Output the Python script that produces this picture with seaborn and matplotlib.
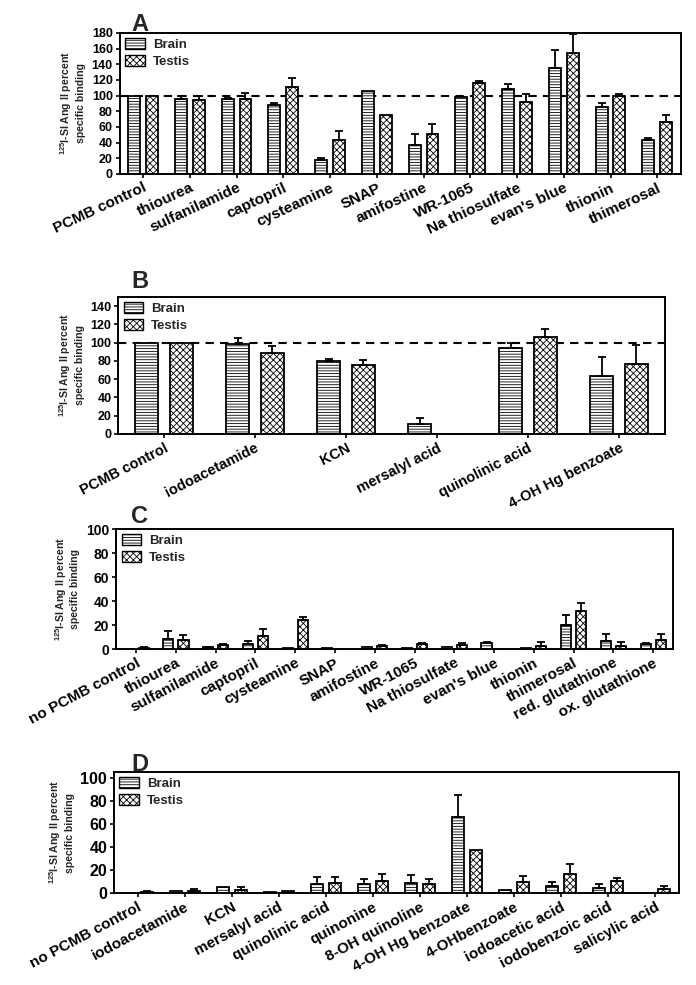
import numpy as np
import pandas as pd
import matplotlib
matplotlib.use('Agg')
import matplotlib.pyplot as plt
import matplotlib.patches as mpatches
import seaborn as sns

# Panel A
a_labels = ['PCMB control', 'thiourea', 'sulfanilamide', 'captopril', 'cysteamine', 'SNAP',
            'amifostine', 'WR-1065', 'Na thiosulfate', "evan's blue", 'thionin', 'thimerosal']
a_brain = [100, 96, 96, 88, 18, 106, 37, 98, 109, 135, 85, 43]
a_brain_err = [0, 4, 1, 3, 2, 0, 14, 0, 6, 23, 6, 3]
a_testis = [100, 95, 96, 111, 43, 75, 51, 116, 92, 155, 100, 66]
a_testis_err = [0, 4, 8, 12, 12, 0, 13, 3, 10, 24, 2, 9]

# Panel B
b_labels = ['PCMB control', 'iodoacetamide', 'KCN', 'mersalyl acid', 'quinolinic acid', '4-OH Hg benzoate']
b_brain = [100, 98, 80, 11, 94, 64]
b_brain_err = [0, 7, 2, 6, 6, 20]
b_testis = [100, 89, 76, 0, 106, 77]
b_testis_err = [0, 7, 5, 0, 9, 20]

# Panel C
c_labels = ['no PCMB control', 'thiourea', 'sulfanilamide', 'captopril', 'cysteamine', 'SNAP',
            'amifostine', 'WR-1065', 'Na thiosulfate', "evan's blue", 'thionin', 'thimerosal',
            'red. glutathione', 'ox. glutathione']
c_brain = [0.3, 8.7, 1.4, 4.5, 0.8, 0.5, 1.4, 1.1, 1.4, 5.0, 0.8, 20.4, 6.4, 4.5]
c_brain_err = [0, 6.4, 0.6, 2.2, 0, 0, 0, 0, 0, 0.9, 0, 8.1, 6.4, 0.5]
c_testis = [1.2, 7.3, 3.6, 10.6, 24.6, 0, 2.5, 3.9, 3.4, 0, 2.8, 31.6, 2.8, 7.8]
c_testis_err = [0.5, 4.4, 0.3, 6.4, 2.5, 0, 0.9, 1.1, 1.6, 0, 2.8, 6.4, 2.8, 5.0]

# Panel D
d_labels = ['no PCMB control', 'iodoacetamide', 'KCN', 'mersalyl acid', 'quinolinic acid', 'quinonine',
            '8-OH quinoline', '4-OH Hg benzoate', '4-OHbenzoate', 'iodoacetic acid',
            'iodobenzoic acid', 'salicylic acid']
d_brain = [0.2, 1.7, 5.5, 1.1, 7.8, 7.8, 8.9, 66.4, 2.3, 5.7, 4.3, 0]
d_brain_err = [0, 0, 0, 0, 5.7, 4.6, 6.3, 18.9, 0, 3.8, 3.7, 0]
d_testis = [1.1, 1.7, 2.3, 1.7, 8.6, 10.3, 7.8, 37.4, 9.2, 16.7, 10.3, 3.2]
d_testis_err = [0.4, 1.5, 2.9, 0, 5.5, 6.1, 4.3, 0, 5.7, 8.3, 2.6, 2.5]

sns.set_style('ticks')
plt.rcParams['font.family'] = ['Liberation Sans', 'DejaVu Sans']
plt.rcParams['mathtext.fontset'] = 'custom'
plt.rcParams['mathtext.rm'] = 'Liberation Sans:bold'
plt.rcParams['mathtext.it'] = 'Liberation Sans:bold'
plt.rcParams['mathtext.bf'] = 'Liberation Sans:bold'
plt.rcParams['hatch.linewidth'] = 0.6

hatches = ['------', 'xxxxx']
ylab = '$^{125}$I-SI Ang II percent\nspecific binding'


def panel(fig, ax, letter, labels, brain, brain_err, testis, testis_err,
          ymax, yticks, dash, xfs, rot, yfs, letter_y):
    n = len(labels)
    df = pd.DataFrame({'compound': labels * 2,
                       'tissue': ['Brain'] * n + ['Testis'] * n,
                       'value': brain + testis})
    sns.barplot(data=df, x='compound', y='value', hue='tissue', order=labels,
                hue_order=['Brain', 'Testis'], palette=['white', 'white'],
                edgecolor='black', linewidth=1.3, width=0.76, gap=0.33,
                errorbar=None, legend=False, ax=ax)
    for cont, hatch, errs in zip(ax.containers, hatches, [brain_err, testis_err]):
        for bar, e in zip(cont, errs):
            bar.set_hatch(hatch)
            if e > 0:
                x = bar.get_x() + bar.get_width() / 2
                ax.errorbar(x, bar.get_height(), yerr=[[0], [e]], fmt='none',
                            ecolor='black', elinewidth=1.3, capsize=3,
                            capthick=1.3, zorder=3)
    if dash:
        ax.axhline(100, color='black', lw=1.5, ls=(0, (4, 3)), zorder=0.5)
    ax.set_ylim(0, ymax)
    ax.set_yticks(yticks)
    ax.set_xlim(-0.5, n - 0.5)
    ax.set_xlabel('')
    ax.set_ylabel(ylab, fontsize=7.6, fontweight='bold', labelpad=4)
    ax.set_xticks(range(n))
    ax.set_xticklabels(labels, rotation=rot, ha='right', rotation_mode='anchor',
                       fontsize=xfs, fontweight='bold')
    for t in ax.get_yticklabels():
        t.set_fontweight('bold')
        t.set_fontsize(yfs)
    ax.tick_params(axis='both', direction='out', length=3, width=1.2, colors='black', pad=2)
    for s in ax.spines.values():
        s.set_linewidth(1.4)
        s.set_color('black')
    handles = [mpatches.Patch(facecolor='white', edgecolor='black', hatch=h, lw=1.0, label=l)
               for h, l in zip(hatches, ['Brain', 'Testis'])]
    ax.legend(handles=handles, loc='upper left', frameon=False,
              prop={'weight': 'bold', 'size': 9.5}, handlelength=1.5, handleheight=0.9,
              handletextpad=0.6, labelspacing=0.25, borderaxespad=0.1, borderpad=0.3)
    fig.text(131 / 696, 1 - letter_y / 985, letter, fontsize=17,
             fontweight='bold', ha='left', va='baseline')


fig = plt.figure(figsize=(6.96, 9.85), dpi=100)
ax_a = fig.add_axes([0.172, 0.8234, 0.806, 0.1431])
ax_b = fig.add_axes([0.170, 0.5594, 0.785, 0.1391])
ax_c = fig.add_axes([0.167, 0.3411, 0.800, 0.1218])
ax_d = fig.add_axes([0.164, 0.0934, 0.811, 0.1228])

panel(fig, ax_a, 'A', a_labels, a_brain, a_brain_err, a_testis, a_testis_err,
      180, range(0, 181, 20), True, 11, 25, 9, 31)
panel(fig, ax_b, 'B', b_labels, b_brain, b_brain_err, b_testis, b_testis_err,
      150, range(0, 141, 20), True, 10.5, 27, 9, 288)
panel(fig, ax_c, 'C', c_labels, c_brain, c_brain_err, c_testis, c_testis_err,
      100, range(0, 101, 20), False, 11, 28, 10, 523)
panel(fig, ax_d, 'D', d_labels, d_brain, d_brain_err, d_testis, d_testis_err,
      105, range(0, 101, 20), False, 11, 28, 11.5, 771)

fig.savefig('out.png', dpi=100)
